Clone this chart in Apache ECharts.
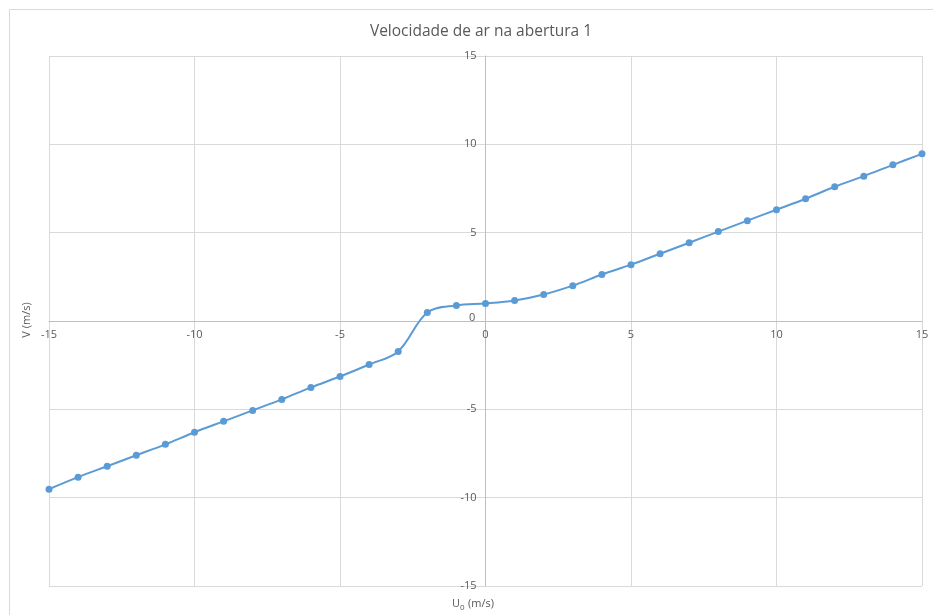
<!DOCTYPE html>
<html><head><meta charset="utf-8">
<script src="https://cdn.jsdelivr.net/npm/echarts@6/dist/echarts.min.js"></script>
<style>html,body{margin:0;padding:0;background:#fff}#c{width:933px;height:615px}</style>
</head><body><div id="c"></div>
<script>
var titleText = "Velocidade de ar na abertura 1";
var xNameMain = "U";
var xNameSub = "0";
var xNameUnit = "(m/s)";
var yName = "V (m/s)";
var yZeroLabel = "0";
var uValues = [-15,-14,-13,-12,-11,-10,-9,-8,-7,-6,-5,-4,-3,-2,-1,0,1,2,3,4,5,6,7,8,9,10,11,12,13,14,15];
var vValues = [-9.52,-8.84,-8.22,-7.6,-6.98,-6.3,-5.68,-5.06,-4.44,-3.76,-3.14,-2.46,-1.72,0.48,0.88,0.99,1.16,1.5,2.0,2.63,3.19,3.81,4.43,5.06,5.68,6.3,6.92,7.6,8.2,8.84,9.46];

var data = uValues.map(function(u,i){return [u, vValues[i]];});
var chart = echarts.init(document.getElementById('c'), null, {renderer:'canvas'});
var font = '"Open Sans", "Liberation Sans", sans-serif';
chart.setOption({
  animation:false,
  backgroundColor:'#fff',
  title:[
    {text:titleText,left:476,top:19,textAlign:'center',
     textStyle:{fontFamily:font,fontSize:15.5,fontWeight:'normal',color:'#595959'}},
    {text:yZeroLabel,left:469,top:312,padding:0,
     textStyle:{fontFamily:font,fontSize:11,fontWeight:'normal',color:'#595959'}}
  ],
  grid:{left:49,right:11,top:56,bottom:29,containLabel:false},
  xAxis:{type:'value',min:-15,max:15,interval:5,position:'bottom',offset:-265,
    axisLine:{onZero:false,lineStyle:{color:'#bfbfbf',width:1}},
    axisTick:{show:false},
    axisLabel:{fontFamily:font,fontSize:11,color:'#595959',margin:8},
    splitLine:{show:true,lineStyle:{color:'#d9d9d9',width:1}}},
  yAxis:{type:'value',min:-15,max:15,interval:5,position:'left',offset:-436.5,
    axisLine:{show:true,onZero:false,lineStyle:{color:'#bfbfbf',width:1}},
    axisTick:{show:false},
    axisLabel:{fontFamily:font,fontSize:11,color:'#595959',margin:9,
      formatter:function(v){return v===0?'':String(v);}},
    splitLine:{show:true,lineStyle:{color:'#d9d9d9',width:1}}},
  graphic:[
    {type:'rect',shape:{x:9.5,y:9.5,width:1000,height:700},style:{fill:null,stroke:'#d9d9d9',lineWidth:1},silent:true,z:-10},
    {type:'text',x:27,y:320,rotation:Math.PI/2,style:{text:yName,font:'11px '+font,fill:'#595959',align:'center',verticalAlign:'middle'}},
    {type:'text',x:452,y:604,style:{text:xNameMain,font:'11px '+font,fill:'#595959',align:'left',verticalAlign:'middle'}},
    {type:'text',x:460,y:608,style:{text:xNameSub,font:'8px '+font,fill:'#595959',align:'left',verticalAlign:'middle'}},
    {type:'text',x:468,y:604,style:{text:xNameUnit,font:'11px '+font,fill:'#595959',align:'left',verticalAlign:'middle'}}
  ],
  series:[{type:'line',data:data,smooth:0.35,symbol:'circle',symbolSize:7,
    itemStyle:{color:'#5b9bd5'},lineStyle:{color:'#5b9bd5',width:2}}]
});
</script></body></html>
